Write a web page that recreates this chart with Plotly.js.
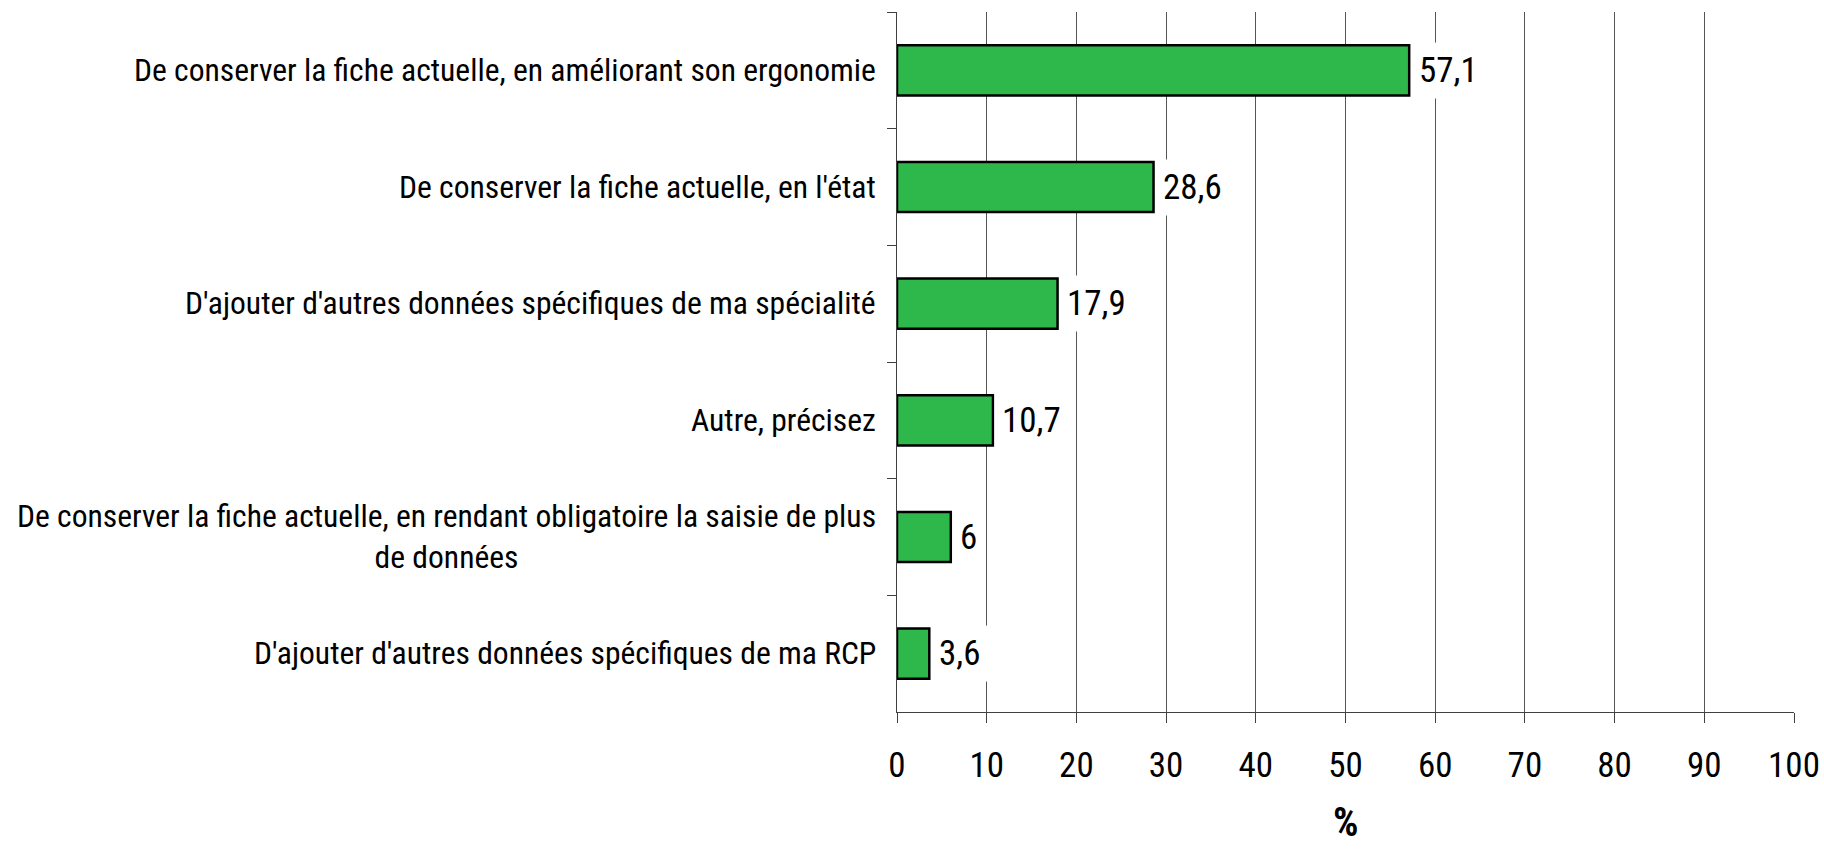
<!DOCTYPE html>
<html>
<head>
<meta charset="utf-8">
<script src="https://cdn.plot.ly/plotly-3.0.1.min.js"></script>
<style>html,body{margin:0;padding:0;background:#fff;}#chart{width:1824px;height:849px;}</style>
</head>
<body>
<div id="chart"></div>
<script>
const categories = [
  "De conserver la fiche actuelle, en améliorant son ergonomie",
  "De conserver la fiche actuelle, en l'état",
  "D'ajouter d'autres données spécifiques de ma spécialité",
  "Autre, précisez",
  "De conserver la fiche actuelle, en rendant obligatoire la saisie de plus<br>de données",
  "D'ajouter d'autres données spécifiques de ma RCP"
];
const values = [57.1, 28.6, 17.9, 10.7, 6, 3.6];
const xTickValues = [0, 10, 20, 30, 40, 50, 60, 70, 80, 90, 100];
const xTitle = "%";

const FONT = "'Liberation Sans Narrow', 'Arial Narrow', 'Roboto Condensed', 'DejaVu Sans Condensed', sans-serif";

const trace = {
  type: "bar",
  orientation: "h",
  x: values,
  y: categories,
  width: 0.43,
  marker: { color: "#2EB84B", line: { color: "#000000", width: 2.5 } },
  hoverinfo: "x+y"
};

const valueAnnotations = values.map((v, i) => ({
  x: v, y: categories[i], xref: "x", yref: "y",
  xanchor: "left", yanchor: "middle",
  xshift: 1.5,
  text: String(v).replace(".", ","),
  showarrow: false,
  bgcolor: "#ffffff",
  borderpad: 7,
  font: { family: FONT, size: 35, color: "#000000", weight: 400 }
}));

const categoryAnnotations = categories.map((c) => ({
  x: 0, y: c, xref: "paper", yref: "y",
  xanchor: "right", yanchor: "middle",
  xshift: -19,
  align: "center",
  text: c,
  showarrow: false,
  font: { family: FONT, size: 31.6, color: "#000000", weight: 400 }
}));

const titleAnnotation = {
  x: 0.5, y: 0, xref: "paper", yref: "paper",
  xanchor: "center", yanchor: "bottom",
  yshift: -136,
  text: "<b>" + xTitle + "</b>",
  showarrow: false,
  font: { family: FONT, size: 40, color: "#000000" }
};

const layout = {
  width: 1824, height: 849,
  margin: { l: 897, r: 30, t: 12, b: 137, pad: 0 },
  paper_bgcolor: "#ffffff",
  plot_bgcolor: "#ffffff",
  showlegend: false,
  font: { family: FONT, color: "#000000" },
  xaxis: {
    range: [0, 100],
    tickvals: xTickValues,
    ticktext: xTickValues.map(String),
    ticks: "outside", ticklen: 10, tickwidth: 1, tickcolor: "#404040",
    ticklabelstandoff: 12,
    showgrid: true, gridcolor: "#555555", gridwidth: 1,
    showline: true, linecolor: "#404040", linewidth: 1,
    zeroline: false,
    tickfont: { family: FONT, size: 35, color: "#000000", weight: 400 },
    fixedrange: true, automargin: false
  },
  yaxis: {
    type: "category",
    categoryorder: "array", categoryarray: categories,
    range: [5.5, -0.5],
    tickson: "boundaries",
    ticks: "outside", ticklen: 9, tickwidth: 1, tickcolor: "#404040",
    showticklabels: false,
    showgrid: false,
    showline: true, linecolor: "#404040", linewidth: 1,
    zeroline: false,
    fixedrange: true, automargin: false
  },
  annotations: valueAnnotations.concat(categoryAnnotations, [titleAnnotation])
};

Plotly.newPlot("chart", [trace], layout, { displayModeBar: false, staticPlot: true });
</script>
</body>
</html>
